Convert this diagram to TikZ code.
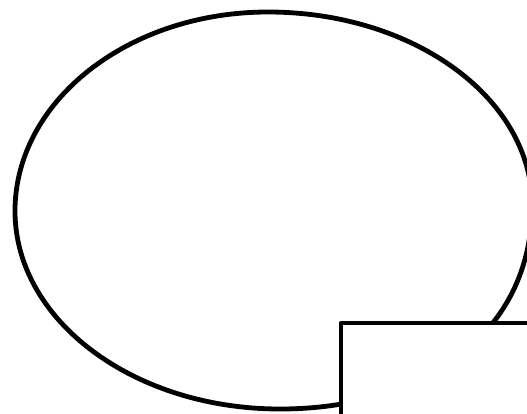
\documentclass[tikz,border=0pt]{standalone}
\usepackage{tikz}
\usetikzlibrary{positioning}

\begin{document}
\begin{tikzpicture}[
  x=1pt, y=-1pt,
  every node/.style={inner sep=0pt, outer sep=0pt},
  outline/.style={draw=black, line width=4.8pt, fill=white, line join=round},
  slab/.style={outline, rectangle, anchor=north west, minimum width=240pt, minimum height=140pt}
]

% frame of the picture
\useasboundingbox (0,0) rectangle (527,413);
\clip (0,0) rectangle (527,413);

% extreme points of the oval (east one lies past the frame)
\coordinate (top) at (268,12);
\coordinate (east) at (532,205);
\coordinate (bottom) at (280,409);
\coordinate (west) at (15,211);

% big oval, fuller on its lower right
\draw[outline] (top)
  .. controls +(0.5523*264,0) and +(0,-0.5523*193) .. (east)
  .. controls +(0,0.65*204) and +(0.55*252,0) .. (bottom)
  .. controls +(-0.5523*265,0) and +(0,0.5523*198) .. (west)
  .. controls +(0,-0.5523*199) and +(-0.5523*253,0) .. (top) -- cycle;

% box overlapping the lower right
\node[slab] (box) at (341,323) {};

\end{tikzpicture}
\end{document}
